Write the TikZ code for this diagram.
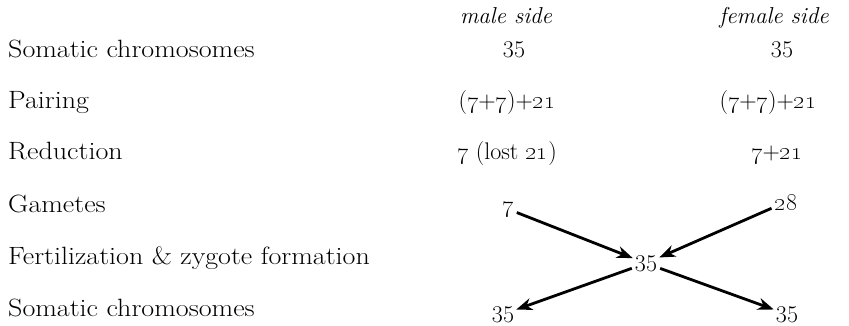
\documentclass[tikz,border=0pt]{standalone}
\usepackage{tikz}
\usetikzlibrary{positioning,arrows.meta}

\tikzset{
  lbl/.style={anchor=base west,inner sep=0pt,font=\fontsize{25}{28}\selectfont},
  num/.style={anchor=base,inner sep=2pt,font=\fontsize{24}{27}\selectfont},
  hdr/.style={anchor=base,inner sep=0pt,font=\fontsize{23}{26}\selectfont\itshape},
  arr/.style={line width=2.8pt,-{Stealth[length=16pt,width=12pt,inset=5pt]},shorten <=1pt,shorten >=0pt}
}
\newcommand{\os}[1]{\oldstylenums{#1}}
\newcommand{\widetxt}[1]{\scalebox{1.12}[1]{#1}}

\begin{document}
\begin{tikzpicture}[x=1pt,y=-1pt]
\useasboundingbox (0,0) rectangle (849,326);
% stage labels, left column
\foreach \i/\y/\txt in {1/58/Somatic chromosomes,2/109/Pairing,3/160/Reduction,4/212/Gametes,5/264/Fertilization \& zygote formation,6/316/Somatic chromosomes} {
    \node[lbl] (lab\i) at (8,\y) {\widetxt{\txt}};
}
% column heads
\node[hdr] (hmale) at (506,24) {male side};
\node[hdr] (hfem) at (774,24) {female side};
% male side
\node[num] (m1) at (514,58) {35};
\node[num] (m2) at (507,109) {(\os{7}+\os{7})+\os{21}};
\node[num] (m3) at (507,160) {\os{7} (lost \os{21})};
\node[num] (g7) at (508,212) {\os{7}};
% female side
\node[num] (f1) at (782,58) {35};
\node[num] (f2) at (768,109) {(\os{7}+\os{7})+\os{21}};
\node[num] (f3) at (777,160) {\os{7}+\os{21}};
\node[num] (g28) at (786,210) {\os{28}};
% zygote and offspring
\node[num] (zyg) at (646,271) {35};
\node[num] (o1) at (503,322) {35};
\node[num] (o2) at (787,322) {35};
\draw[arr] (g7) -- (zyg);
\draw[arr] (g28) -- (zyg);
\draw[arr] (zyg) -- (o1);
\draw[arr] (zyg) -- (o2);
\end{tikzpicture}
\end{document}
